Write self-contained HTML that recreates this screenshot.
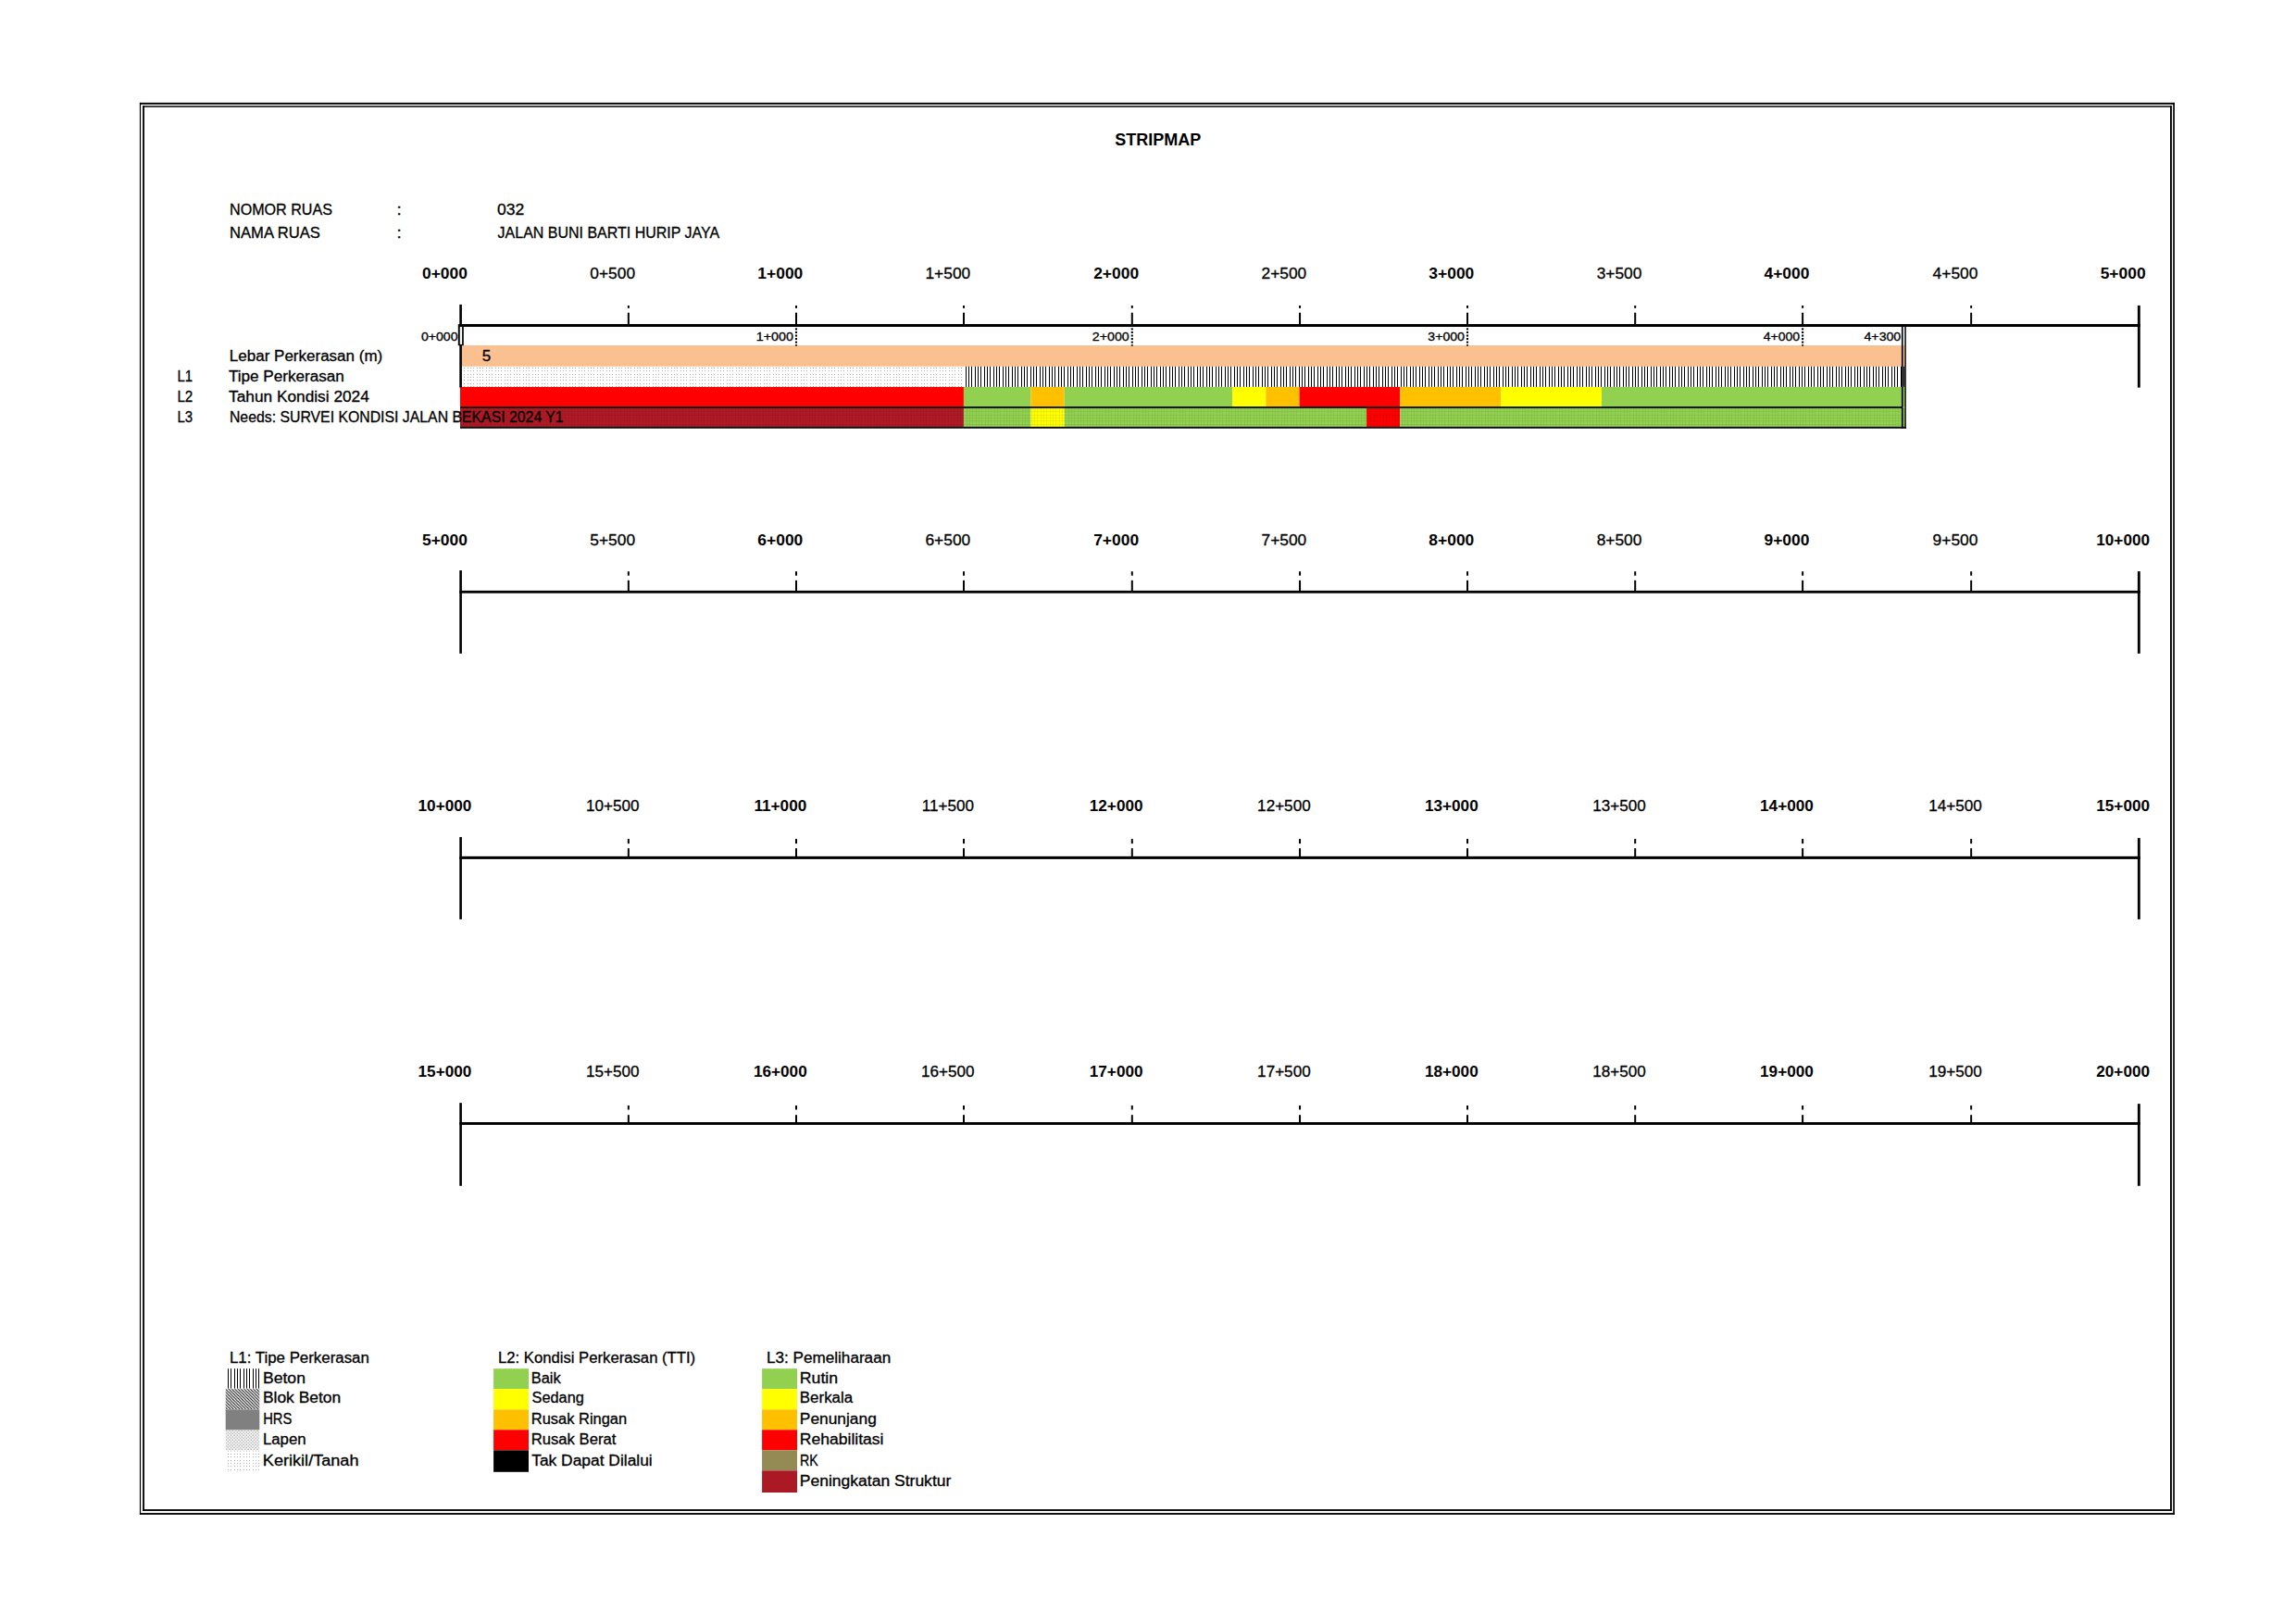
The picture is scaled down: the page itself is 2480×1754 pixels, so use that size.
<!DOCTYPE html>
<html><head><meta charset="utf-8"><title>STRIPMAP</title>
<style>html,body{margin:0;padding:0;background:#fff}svg{display:block}text{font-family:'Liberation Sans', sans-serif;fill:#000;white-space:pre}text.r{stroke:#000;stroke-width:0.3px}</style>
</head><body>
<svg width="2480" height="1754" viewBox="0 0 2480 1754">
<defs>
<pattern id="pBeton" patternUnits="userSpaceOnUse" x="1043" y="0" width="10" height="10"><rect x="0" y="0" width="1" height="10"/><rect x="3" y="0" width="1" height="10"/><rect x="6" y="0" width="1" height="10"/></pattern>
<pattern id="pBeton2" patternUnits="userSpaceOnUse" x="246" y="0" width="10" height="10"><rect x="0" y="0" width="1" height="10"/><rect x="3" y="0" width="1" height="10"/><rect x="7" y="0" width="1" height="10"/></pattern>
<pattern id="pDots" patternUnits="userSpaceOnUse" x="501" y="397" width="10" height="10">
<g fill="#b0b0b0"><rect x="0" y="0" width="1" height="1"/><rect x="4" y="0" width="1" height="1"/><rect x="7" y="0" width="1" height="1"/><rect x="0" y="3" width="1" height="1"/><rect x="4" y="3" width="1" height="1"/><rect x="7" y="3" width="1" height="1"/><rect x="0" y="7" width="1" height="1"/><rect x="4" y="7" width="1" height="1"/><rect x="7" y="7" width="1" height="1"/></g></pattern>
<pattern id="pDots2" patternUnits="userSpaceOnUse" x="246" y="1570" width="10" height="10">
<g fill="#b0b0b0"><rect x="0" y="0" width="1" height="1"/><rect x="3" y="0" width="1" height="1"/><rect x="7" y="0" width="1" height="1"/><rect x="0" y="3" width="1" height="1"/><rect x="3" y="3" width="1" height="1"/><rect x="7" y="3" width="1" height="1"/><rect x="0" y="7" width="1" height="1"/><rect x="3" y="7" width="1" height="1"/><rect x="7" y="7" width="1" height="1"/></g></pattern>
<pattern id="pGrid" patternUnits="userSpaceOnUse" x="497" y="441" width="10" height="10"><g fill="#000" fill-opacity="0.06"><rect x="0" y="0" width="1" height="10"/><rect x="0" y="0" width="10" height="1"/><rect x="3" y="0" width="1" height="10"/><rect x="0" y="3" width="10" height="1"/><rect x="7" y="0" width="1" height="10"/><rect x="0" y="7" width="10" height="1"/></g></pattern>
<pattern id="pHatch" patternUnits="userSpaceOnUse" x="243.7" y="1500.2" width="3.3333" height="3.3333"><path d="M-1,-1 L4.333,4.333 M-1,2.333 L1,4.333 M2.333,-1 L4.333,1" stroke="#000" stroke-width="1.0"/></pattern>
<pattern id="pLapen" patternUnits="userSpaceOnUse" x="243.7" y="1544.3" width="3.3333" height="3.3333"><g fill="#9c9c9c"><rect x="0.3" y="0.3" width="1.3" height="1.3"/><rect x="1.967" y="1.967" width="1.3" height="1.3"/></g></pattern>
</defs>
<rect width="2480" height="1754" fill="#fff"/>
<g id="shapes">
<rect x="150.90" y="110.85" width="2198.00" height="1.95" fill="#000"/>
<rect x="150.90" y="1634.05" width="2198.00" height="1.85" fill="#000"/>
<rect x="150.90" y="110.85" width="1.20" height="1525.05" fill="#000"/>
<rect x="2347.20" y="110.85" width="1.70" height="1525.05" fill="#000"/>
<rect x="154.10" y="114.25" width="2191.80" height="1.50" fill="#000"/>
<rect x="154.10" y="1630.10" width="2191.80" height="1.85" fill="#000"/>
<rect x="154.10" y="114.25" width="1.85" height="1517.70" fill="#000"/>
<rect x="2344.00" y="114.25" width="1.90" height="1517.70" fill="#000"/>
<rect x="498.90" y="373.00" width="1558.40" height="22.80" fill="#FAC090"/>
<rect x="498.90" y="395.80" width="542.03" height="22.10" fill="url(#pDots)"/>
<rect x="1040.93" y="395.80" width="1016.37" height="22.10" fill="url(#pBeton)"/>
<rect x="497.00" y="417.90" width="543.93" height="21.70" fill="#FF0000"/>
<rect x="1040.93" y="417.90" width="72.52" height="21.70" fill="#92D050"/>
<rect x="1113.45" y="417.90" width="36.26" height="21.70" fill="#FFC000"/>
<rect x="1149.72" y="417.90" width="181.31" height="21.70" fill="#92D050"/>
<rect x="1331.03" y="417.90" width="36.26" height="21.70" fill="#FFFF00"/>
<rect x="1367.29" y="417.90" width="36.26" height="21.70" fill="#FFC000"/>
<rect x="1403.55" y="417.90" width="108.79" height="21.70" fill="#FF0000"/>
<rect x="1512.34" y="417.90" width="108.79" height="21.70" fill="#FFC000"/>
<rect x="1621.12" y="417.90" width="108.79" height="21.70" fill="#FFFF00"/>
<rect x="1729.91" y="417.90" width="327.39" height="21.70" fill="#92D050"/>
<rect x="497.00" y="440.30" width="543.93" height="21.40" fill="#B01A25"/>
<rect x="1040.93" y="440.30" width="72.52" height="21.40" fill="#92D050"/>
<rect x="1113.45" y="440.30" width="36.26" height="21.40" fill="#FFFF00"/>
<rect x="1149.72" y="440.30" width="326.36" height="21.40" fill="#92D050"/>
<rect x="1476.07" y="440.30" width="36.26" height="21.40" fill="#FF0000"/>
<rect x="1512.34" y="440.30" width="544.96" height="21.40" fill="#92D050"/>
<rect x="497.00" y="440.30" width="1560.30" height="21.40" fill="url(#pGrid)"/>
<rect x="497.00" y="439.10" width="1557.50" height="1.75" fill="#000"/>
<rect x="497.00" y="460.90" width="1561.80" height="1.85" fill="#000"/>
<rect x="496.30" y="350.00" width="1815.45" height="3.00" fill="#000"/>
<rect x="496.30" y="328.90" width="2.60" height="89.70" fill="#000"/>
<rect x="2308.90" y="329.90" width="2.85" height="88.70" fill="#000"/>
<rect x="677.85" y="330.00" width="2.00" height="2.85" fill="#000"/>
<rect x="677.85" y="337.70" width="2.00" height="12.80" fill="#000"/>
<rect x="859.00" y="330.00" width="2.00" height="2.85" fill="#000"/>
<rect x="859.00" y="337.70" width="2.00" height="12.80" fill="#000"/>
<rect x="1040.00" y="330.00" width="2.00" height="2.85" fill="#000"/>
<rect x="1040.00" y="337.70" width="2.00" height="12.80" fill="#000"/>
<rect x="1221.80" y="330.00" width="2.00" height="2.85" fill="#000"/>
<rect x="1221.80" y="337.70" width="2.00" height="12.80" fill="#000"/>
<rect x="1403.05" y="330.00" width="2.00" height="2.85" fill="#000"/>
<rect x="1403.05" y="337.70" width="2.00" height="12.80" fill="#000"/>
<rect x="1584.00" y="330.00" width="2.00" height="2.85" fill="#000"/>
<rect x="1584.00" y="337.70" width="2.00" height="12.80" fill="#000"/>
<rect x="1765.20" y="330.00" width="2.00" height="2.85" fill="#000"/>
<rect x="1765.20" y="337.70" width="2.00" height="12.80" fill="#000"/>
<rect x="1946.10" y="330.00" width="2.00" height="2.85" fill="#000"/>
<rect x="1946.10" y="337.70" width="2.00" height="12.80" fill="#000"/>
<rect x="2128.15" y="330.00" width="2.00" height="2.85" fill="#000"/>
<rect x="2128.15" y="337.70" width="2.00" height="12.80" fill="#000"/>
<rect x="496.30" y="637.90" width="1815.45" height="2.80" fill="#000"/>
<rect x="496.30" y="616.05" width="2.60" height="89.80" fill="#000"/>
<rect x="2308.90" y="617.05" width="2.85" height="88.80" fill="#000"/>
<rect x="677.85" y="617.20" width="2.00" height="4.50" fill="#000"/>
<rect x="677.85" y="626.80" width="2.00" height="11.60" fill="#000"/>
<rect x="859.00" y="617.20" width="2.00" height="4.50" fill="#000"/>
<rect x="859.00" y="626.80" width="2.00" height="11.60" fill="#000"/>
<rect x="1040.00" y="617.20" width="2.00" height="4.50" fill="#000"/>
<rect x="1040.00" y="626.80" width="2.00" height="11.60" fill="#000"/>
<rect x="1221.80" y="617.20" width="2.00" height="4.50" fill="#000"/>
<rect x="1221.80" y="626.80" width="2.00" height="11.60" fill="#000"/>
<rect x="1403.05" y="617.20" width="2.00" height="4.50" fill="#000"/>
<rect x="1403.05" y="626.80" width="2.00" height="11.60" fill="#000"/>
<rect x="1584.00" y="617.20" width="2.00" height="4.50" fill="#000"/>
<rect x="1584.00" y="626.80" width="2.00" height="11.60" fill="#000"/>
<rect x="1765.20" y="617.20" width="2.00" height="4.50" fill="#000"/>
<rect x="1765.20" y="626.80" width="2.00" height="11.60" fill="#000"/>
<rect x="1946.10" y="617.20" width="2.00" height="4.50" fill="#000"/>
<rect x="1946.10" y="626.80" width="2.00" height="11.60" fill="#000"/>
<rect x="2128.15" y="617.20" width="2.00" height="4.50" fill="#000"/>
<rect x="2128.15" y="626.80" width="2.00" height="11.60" fill="#000"/>
<rect x="496.30" y="924.85" width="1815.45" height="3.05" fill="#000"/>
<rect x="496.30" y="904.10" width="2.60" height="88.80" fill="#000"/>
<rect x="2308.90" y="905.10" width="2.85" height="87.80" fill="#000"/>
<rect x="677.85" y="906.05" width="2.00" height="5.10" fill="#000"/>
<rect x="677.85" y="916.20" width="2.00" height="9.15" fill="#000"/>
<rect x="859.00" y="906.05" width="2.00" height="5.10" fill="#000"/>
<rect x="859.00" y="916.20" width="2.00" height="9.15" fill="#000"/>
<rect x="1040.00" y="906.05" width="2.00" height="5.10" fill="#000"/>
<rect x="1040.00" y="916.20" width="2.00" height="9.15" fill="#000"/>
<rect x="1221.80" y="906.05" width="2.00" height="5.10" fill="#000"/>
<rect x="1221.80" y="916.20" width="2.00" height="9.15" fill="#000"/>
<rect x="1403.05" y="906.05" width="2.00" height="5.10" fill="#000"/>
<rect x="1403.05" y="916.20" width="2.00" height="9.15" fill="#000"/>
<rect x="1584.00" y="906.05" width="2.00" height="5.10" fill="#000"/>
<rect x="1584.00" y="916.20" width="2.00" height="9.15" fill="#000"/>
<rect x="1765.20" y="906.05" width="2.00" height="5.10" fill="#000"/>
<rect x="1765.20" y="916.20" width="2.00" height="9.15" fill="#000"/>
<rect x="1946.10" y="906.05" width="2.00" height="5.10" fill="#000"/>
<rect x="1946.10" y="916.20" width="2.00" height="9.15" fill="#000"/>
<rect x="2128.15" y="906.05" width="2.00" height="5.10" fill="#000"/>
<rect x="2128.15" y="916.20" width="2.00" height="9.15" fill="#000"/>
<rect x="496.30" y="1212.00" width="1815.45" height="2.90" fill="#000"/>
<rect x="496.30" y="1191.15" width="2.60" height="89.65" fill="#000"/>
<rect x="2308.90" y="1192.15" width="2.85" height="88.65" fill="#000"/>
<rect x="677.85" y="1194.00" width="2.00" height="4.50" fill="#000"/>
<rect x="677.85" y="1204.20" width="2.00" height="8.30" fill="#000"/>
<rect x="859.00" y="1194.00" width="2.00" height="4.50" fill="#000"/>
<rect x="859.00" y="1204.20" width="2.00" height="8.30" fill="#000"/>
<rect x="1040.00" y="1194.00" width="2.00" height="4.50" fill="#000"/>
<rect x="1040.00" y="1204.20" width="2.00" height="8.30" fill="#000"/>
<rect x="1221.80" y="1194.00" width="2.00" height="4.50" fill="#000"/>
<rect x="1221.80" y="1204.20" width="2.00" height="8.30" fill="#000"/>
<rect x="1403.05" y="1194.00" width="2.00" height="4.50" fill="#000"/>
<rect x="1403.05" y="1204.20" width="2.00" height="8.30" fill="#000"/>
<rect x="1584.00" y="1194.00" width="2.00" height="4.50" fill="#000"/>
<rect x="1584.00" y="1204.20" width="2.00" height="8.30" fill="#000"/>
<rect x="1765.20" y="1194.00" width="2.00" height="4.50" fill="#000"/>
<rect x="1765.20" y="1204.20" width="2.00" height="8.30" fill="#000"/>
<rect x="1946.10" y="1194.00" width="2.00" height="4.50" fill="#000"/>
<rect x="1946.10" y="1204.20" width="2.00" height="8.30" fill="#000"/>
<rect x="2128.15" y="1194.00" width="2.00" height="4.50" fill="#000"/>
<rect x="2128.15" y="1204.20" width="2.00" height="8.30" fill="#000"/>
<rect x="858.95" y="354.40" width="2.10" height="2.00" fill="#000"/>
<rect x="858.95" y="357.95" width="2.10" height="2.00" fill="#000"/>
<rect x="858.95" y="361.50" width="2.10" height="2.00" fill="#000"/>
<rect x="858.95" y="365.05" width="2.10" height="2.00" fill="#000"/>
<rect x="858.95" y="368.60" width="2.10" height="2.00" fill="#000"/>
<rect x="858.95" y="372.15" width="2.10" height="1.45" fill="#000"/>
<rect x="1221.75" y="354.40" width="2.10" height="2.00" fill="#000"/>
<rect x="1221.75" y="357.95" width="2.10" height="2.00" fill="#000"/>
<rect x="1221.75" y="361.50" width="2.10" height="2.00" fill="#000"/>
<rect x="1221.75" y="365.05" width="2.10" height="2.00" fill="#000"/>
<rect x="1221.75" y="368.60" width="2.10" height="2.00" fill="#000"/>
<rect x="1221.75" y="372.15" width="2.10" height="1.45" fill="#000"/>
<rect x="1583.95" y="354.40" width="2.10" height="2.00" fill="#000"/>
<rect x="1583.95" y="357.95" width="2.10" height="2.00" fill="#000"/>
<rect x="1583.95" y="361.50" width="2.10" height="2.00" fill="#000"/>
<rect x="1583.95" y="365.05" width="2.10" height="2.00" fill="#000"/>
<rect x="1583.95" y="368.60" width="2.10" height="2.00" fill="#000"/>
<rect x="1583.95" y="372.15" width="2.10" height="1.45" fill="#000"/>
<rect x="1946.05" y="354.40" width="2.10" height="2.00" fill="#000"/>
<rect x="1946.05" y="357.95" width="2.10" height="2.00" fill="#000"/>
<rect x="1946.05" y="361.50" width="2.10" height="2.00" fill="#000"/>
<rect x="1946.05" y="365.05" width="2.10" height="2.00" fill="#000"/>
<rect x="1946.05" y="368.60" width="2.10" height="2.00" fill="#000"/>
<rect x="1946.05" y="372.15" width="2.10" height="1.45" fill="#000"/>
<rect x="494.80" y="350.20" width="6.00" height="23.00" fill="#000"/>
<rect x="496.75" y="353.00" width="2.35" height="18.90" fill="#fff"/>
<rect x="2053.90" y="352.50" width="1.70" height="110.25" fill="#000"/>
<rect x="2057.30" y="352.50" width="1.50" height="110.25" fill="#000"/>
<rect x="245.00" y="1478.20" width="35.30" height="21.40" fill="url(#pBeton2)"/>
<rect x="243.70" y="1500.20" width="36.60" height="22.10" fill="url(#pHatch)"/>
<rect x="243.70" y="1522.30" width="36.60" height="22.00" fill="#808080"/>
<rect x="243.70" y="1544.30" width="36.60" height="22.10" fill="url(#pLapen)"/>
<rect x="244.70" y="1567.40" width="35.60" height="22.40" fill="url(#pDots2)"/>
<rect x="533.10" y="1478.20" width="37.90" height="22.00" fill="#92D050"/>
<rect x="533.10" y="1500.20" width="37.90" height="22.10" fill="#FFFF00"/>
<rect x="533.10" y="1522.30" width="37.90" height="22.00" fill="#FFC000"/>
<rect x="533.10" y="1544.30" width="37.90" height="22.10" fill="#FF0000"/>
<rect x="533.10" y="1566.40" width="37.90" height="23.40" fill="#000"/>
<rect x="823.10" y="1478.20" width="37.90" height="22.00" fill="#92D050"/>
<rect x="823.10" y="1500.20" width="37.90" height="22.10" fill="#FFFF00"/>
<rect x="823.10" y="1522.30" width="37.90" height="22.00" fill="#FFC000"/>
<rect x="823.10" y="1544.30" width="37.90" height="22.10" fill="#FF0000"/>
<rect x="823.10" y="1566.40" width="37.90" height="21.90" fill="#948A54"/>
<rect x="823.10" y="1588.30" width="37.90" height="23.70" fill="#AB1A24"/>
</g>
<g id="labels">
<text x="1204.21" y="156.80" font-size="18.4" font-weight="bold" textLength="93.11" lengthAdjust="spacingAndGlyphs">STRIPMAP</text>
<text x="248.03" y="232.07" font-size="15.8" class="r" textLength="110.96" lengthAdjust="spacingAndGlyphs">NOMOR RUAS</text>
<text x="428.40" y="232.07" font-size="15.8" class="r" textLength="5.27" lengthAdjust="spacingAndGlyphs">:</text>
<text x="537.07" y="232.07" font-size="16.7" class="r" textLength="29.25" lengthAdjust="spacingAndGlyphs">032</text>
<text x="247.99" y="257.07" font-size="15.8" class="r" textLength="97.79" lengthAdjust="spacingAndGlyphs">NAMA RUAS</text>
<text x="428.40" y="257.07" font-size="15.8" class="r" textLength="5.27" lengthAdjust="spacingAndGlyphs">:</text>
<text x="537.60" y="256.97" font-size="15.8" class="r" textLength="239.58" lengthAdjust="spacingAndGlyphs">JALAN BUNI BARTI HURIP JAYA</text>
<text x="247.85" y="389.67" font-size="15.8" class="r" textLength="165.42" lengthAdjust="spacingAndGlyphs">Lebar Perkerasan (m)</text>
<text x="520.89" y="389.77" font-size="16.7" class="r" textLength="9.45" lengthAdjust="spacingAndGlyphs">5</text>
<text x="191.43" y="411.67" font-size="15.8" class="r" textLength="16.52" lengthAdjust="spacingAndGlyphs">L1</text>
<text x="246.93" y="411.67" font-size="15.8" class="r" textLength="124.97" lengthAdjust="spacingAndGlyphs">Tipe Perkerasan</text>
<text x="191.40" y="433.57" font-size="15.8" class="r" textLength="16.85" lengthAdjust="spacingAndGlyphs">L2</text>
<text x="247.13" y="433.57" font-size="15.8" class="r" textLength="151.68" lengthAdjust="spacingAndGlyphs">Tahun Kondisi 2024</text>
<text x="191.42" y="455.67" font-size="15.8" class="r" textLength="16.63" lengthAdjust="spacingAndGlyphs">L3</text>
<text x="247.95" y="455.67" font-size="15.8" class="r" textLength="360.70" lengthAdjust="spacingAndGlyphs">Needs: SURVEI KONDISI JALAN BEKASI 2024 Y1</text>
<text x="247.97" y="1471.67" font-size="15.8" class="r" textLength="150.88" lengthAdjust="spacingAndGlyphs">L1: Tipe Perkerasan</text>
<text x="283.91" y="1493.67" font-size="15.8" class="r" textLength="46.03" lengthAdjust="spacingAndGlyphs">Beton</text>
<text x="283.92" y="1515.47" font-size="15.8" class="r" textLength="84.28" lengthAdjust="spacingAndGlyphs">Blok Beton</text>
<text x="284.13" y="1538.47" font-size="15.8" class="r" textLength="31.14" lengthAdjust="spacingAndGlyphs">HRS</text>
<text x="283.97" y="1560.37" font-size="15.8" class="r" textLength="46.62" lengthAdjust="spacingAndGlyphs">Lapen</text>
<text x="283.87" y="1582.87" font-size="15.8" class="r" textLength="103.62" lengthAdjust="spacingAndGlyphs">Kerikil/Tanah</text>
<text x="537.98" y="1471.67" font-size="15.8" class="r" textLength="213.21" lengthAdjust="spacingAndGlyphs">L2: Kondisi Perkerasan (TTI)</text>
<text x="573.80" y="1493.67" font-size="15.8" class="r" textLength="31.92" lengthAdjust="spacingAndGlyphs">Baik</text>
<text x="574.58" y="1515.47" font-size="15.8" class="r" textLength="56.22" lengthAdjust="spacingAndGlyphs">Sedang</text>
<text x="573.80" y="1538.47" font-size="15.8" class="r" textLength="103.38" lengthAdjust="spacingAndGlyphs">Rusak Ringan</text>
<text x="573.78" y="1560.37" font-size="15.8" class="r" textLength="91.53" lengthAdjust="spacingAndGlyphs">Rusak Berat</text>
<text x="574.22" y="1582.87" font-size="15.8" class="r" textLength="130.51" lengthAdjust="spacingAndGlyphs">Tak Dapat Dilalui</text>
<text x="827.94" y="1471.67" font-size="15.8" class="r" textLength="134.25" lengthAdjust="spacingAndGlyphs">L3: Pemeliharaan</text>
<text x="863.80" y="1493.67" font-size="15.8" class="r" textLength="41.30" lengthAdjust="spacingAndGlyphs">Rutin</text>
<text x="863.86" y="1515.47" font-size="15.8" class="r" textLength="57.24" lengthAdjust="spacingAndGlyphs">Berkala</text>
<text x="863.83" y="1538.47" font-size="15.8" class="r" textLength="82.95" lengthAdjust="spacingAndGlyphs">Penunjang</text>
<text x="863.81" y="1560.37" font-size="15.8" class="r" textLength="90.71" lengthAdjust="spacingAndGlyphs">Rehabilitasi</text>
<text x="864.08" y="1582.87" font-size="15.8" class="r" textLength="19.68" lengthAdjust="spacingAndGlyphs">RK</text>
<text x="863.81" y="1604.77" font-size="15.8" class="r" textLength="163.52" lengthAdjust="spacingAndGlyphs">Peningkatan Struktur</text>
<text x="455.98" y="300.87" font-size="16.7" font-weight="bold" textLength="48.94" lengthAdjust="spacingAndGlyphs">0+000</text>
<text x="637.33" y="300.87" font-size="16.7" class="r" textLength="48.75" lengthAdjust="spacingAndGlyphs">0+500</text>
<text x="818.38" y="300.87" font-size="16.7" font-weight="bold" textLength="48.94" lengthAdjust="spacingAndGlyphs">1+000</text>
<text x="999.48" y="300.87" font-size="16.7" class="r" textLength="48.75" lengthAdjust="spacingAndGlyphs">1+500</text>
<text x="1181.18" y="300.87" font-size="16.7" font-weight="bold" textLength="48.94" lengthAdjust="spacingAndGlyphs">2+000</text>
<text x="1362.52" y="300.87" font-size="16.7" class="r" textLength="48.75" lengthAdjust="spacingAndGlyphs">2+500</text>
<text x="1543.38" y="300.87" font-size="16.7" font-weight="bold" textLength="48.94" lengthAdjust="spacingAndGlyphs">3+000</text>
<text x="1724.67" y="300.87" font-size="16.7" class="r" textLength="48.75" lengthAdjust="spacingAndGlyphs">3+500</text>
<text x="1905.48" y="300.87" font-size="16.7" font-weight="bold" textLength="48.94" lengthAdjust="spacingAndGlyphs">4+000</text>
<text x="2087.62" y="300.87" font-size="16.7" class="r" textLength="48.75" lengthAdjust="spacingAndGlyphs">4+500</text>
<text x="2268.68" y="300.87" font-size="16.7" font-weight="bold" textLength="48.94" lengthAdjust="spacingAndGlyphs">5+000</text>
<text x="455.98" y="589.17" font-size="16.7" font-weight="bold" textLength="48.94" lengthAdjust="spacingAndGlyphs">5+000</text>
<text x="637.33" y="589.17" font-size="16.7" class="r" textLength="48.75" lengthAdjust="spacingAndGlyphs">5+500</text>
<text x="818.38" y="589.17" font-size="16.7" font-weight="bold" textLength="48.94" lengthAdjust="spacingAndGlyphs">6+000</text>
<text x="999.48" y="589.17" font-size="16.7" class="r" textLength="48.75" lengthAdjust="spacingAndGlyphs">6+500</text>
<text x="1181.18" y="589.17" font-size="16.7" font-weight="bold" textLength="48.94" lengthAdjust="spacingAndGlyphs">7+000</text>
<text x="1362.52" y="589.17" font-size="16.7" class="r" textLength="48.75" lengthAdjust="spacingAndGlyphs">7+500</text>
<text x="1543.38" y="589.17" font-size="16.7" font-weight="bold" textLength="48.94" lengthAdjust="spacingAndGlyphs">8+000</text>
<text x="1724.67" y="589.17" font-size="16.7" class="r" textLength="48.75" lengthAdjust="spacingAndGlyphs">8+500</text>
<text x="1905.48" y="589.17" font-size="16.7" font-weight="bold" textLength="48.94" lengthAdjust="spacingAndGlyphs">9+000</text>
<text x="2087.62" y="589.17" font-size="16.7" class="r" textLength="48.75" lengthAdjust="spacingAndGlyphs">9+500</text>
<text x="2264.28" y="589.17" font-size="16.7" font-weight="bold" textLength="57.75" lengthAdjust="spacingAndGlyphs">10+000</text>
<text x="451.58" y="876.07" font-size="16.7" font-weight="bold" textLength="57.75" lengthAdjust="spacingAndGlyphs">10+000</text>
<text x="632.94" y="876.07" font-size="16.7" class="r" textLength="57.53" lengthAdjust="spacingAndGlyphs">10+500</text>
<text x="814.45" y="876.07" font-size="16.7" font-weight="bold" textLength="56.80" lengthAdjust="spacingAndGlyphs">11+000</text>
<text x="995.72" y="876.07" font-size="16.7" class="r" textLength="56.26" lengthAdjust="spacingAndGlyphs">11+500</text>
<text x="1176.78" y="876.07" font-size="16.7" font-weight="bold" textLength="57.75" lengthAdjust="spacingAndGlyphs">12+000</text>
<text x="1358.14" y="876.07" font-size="16.7" class="r" textLength="57.53" lengthAdjust="spacingAndGlyphs">12+500</text>
<text x="1538.98" y="876.07" font-size="16.7" font-weight="bold" textLength="57.75" lengthAdjust="spacingAndGlyphs">13+000</text>
<text x="1720.29" y="876.07" font-size="16.7" class="r" textLength="57.53" lengthAdjust="spacingAndGlyphs">13+500</text>
<text x="1901.08" y="876.07" font-size="16.7" font-weight="bold" textLength="57.75" lengthAdjust="spacingAndGlyphs">14+000</text>
<text x="2083.24" y="876.07" font-size="16.7" class="r" textLength="57.53" lengthAdjust="spacingAndGlyphs">14+500</text>
<text x="2264.28" y="876.07" font-size="16.7" font-weight="bold" textLength="57.75" lengthAdjust="spacingAndGlyphs">15+000</text>
<text x="451.58" y="1163.07" font-size="16.7" font-weight="bold" textLength="57.75" lengthAdjust="spacingAndGlyphs">15+000</text>
<text x="632.94" y="1163.07" font-size="16.7" class="r" textLength="57.53" lengthAdjust="spacingAndGlyphs">15+500</text>
<text x="813.98" y="1163.07" font-size="16.7" font-weight="bold" textLength="57.75" lengthAdjust="spacingAndGlyphs">16+000</text>
<text x="995.09" y="1163.07" font-size="16.7" class="r" textLength="57.53" lengthAdjust="spacingAndGlyphs">16+500</text>
<text x="1176.78" y="1163.07" font-size="16.7" font-weight="bold" textLength="57.75" lengthAdjust="spacingAndGlyphs">17+000</text>
<text x="1358.14" y="1163.07" font-size="16.7" class="r" textLength="57.53" lengthAdjust="spacingAndGlyphs">17+500</text>
<text x="1538.98" y="1163.07" font-size="16.7" font-weight="bold" textLength="57.75" lengthAdjust="spacingAndGlyphs">18+000</text>
<text x="1720.29" y="1163.07" font-size="16.7" class="r" textLength="57.53" lengthAdjust="spacingAndGlyphs">18+500</text>
<text x="1901.08" y="1163.07" font-size="16.7" font-weight="bold" textLength="57.75" lengthAdjust="spacingAndGlyphs">19+000</text>
<text x="2083.24" y="1163.07" font-size="16.7" class="r" textLength="57.53" lengthAdjust="spacingAndGlyphs">19+500</text>
<text x="2264.28" y="1163.07" font-size="16.7" font-weight="bold" textLength="57.75" lengthAdjust="spacingAndGlyphs">20+000</text>
<text x="454.91" y="367.77" font-size="12.3" class="r" textLength="39.63" lengthAdjust="spacingAndGlyphs">0+000</text>
<text x="816.73" y="367.77" font-size="12.3" class="r" textLength="40.22" lengthAdjust="spacingAndGlyphs">1+000</text>
<text x="1179.82" y="367.77" font-size="12.3" class="r" textLength="39.92" lengthAdjust="spacingAndGlyphs">2+000</text>
<text x="1542.31" y="367.77" font-size="12.3" class="r" textLength="39.63" lengthAdjust="spacingAndGlyphs">3+000</text>
<text x="1904.70" y="367.77" font-size="12.3" class="r" textLength="39.34" lengthAdjust="spacingAndGlyphs">4+000</text>
<text x="2013.50" y="367.77" font-size="12.3" class="r" textLength="39.74" lengthAdjust="spacingAndGlyphs">4+300</text>
</g>
</svg>
</body></html>
